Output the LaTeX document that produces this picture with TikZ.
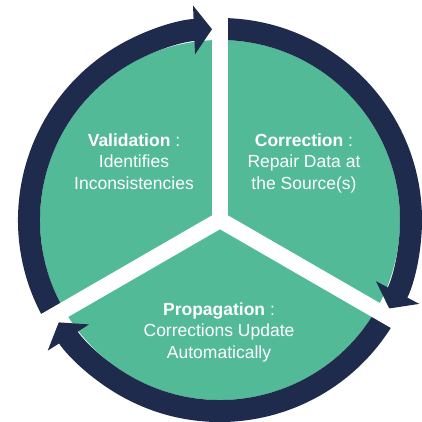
\documentclass[tikz,border=0pt]{standalone}
\usepackage{fontspec}
\setmainfont{Liberation Sans}
\usepackage{xcolor}
\usepackage{tikz}
\usetikzlibrary{arrows.meta}
\definecolor{cyclegreen}{RGB}{83,186,152}
\definecolor{cyclenavy}{RGB}{31,43,77}
\tikzstyle{stagetext} = [align=center, text=white, inner sep=0pt, anchor=base, font=\fontsize{17.5}{21.5}\selectfont]
\tikzstyle{cyclearrow} = [line width=22pt, draw=cyclenavy, -{Triangle[length=18pt,width=48pt]}]
\tikzstyle{gapbar} = [line width=16pt, draw=white]

\begin{document}
\begin{tikzpicture}[x=1pt, y=1pt]

  \useasboundingbox (-220,-201) rectangle (202,220);
  \coordinate (hub) at (0,0);
  \fill [cyclegreen] (hub) circle (180);

  \draw [cyclearrow] (210:191) arc[start angle=210, end angle=92.4, radius=191];
  \draw [cyclearrow] (90:191) arc[start angle=90, end angle=-27.6, radius=191];
  \draw [cyclearrow] (-30:191) arc[start angle=-30, end angle=-147.6, radius=191];

  \draw [gapbar] (hub) -- ++(90:222);
  \draw [gapbar] (hub) -- ++(-30:222);
  \draw [gapbar] (hub) -- ++(210:222);

  % base anchor sits on the last line
  \node (validation) [stagetext] at (-86,31) {\textbf{Validation} :\\Identifies\\Inconsistencies};
  \node (correction) [stagetext] at (84,31) {\textbf{Correction} :\\Repair Data at\\the Source(s)};
  \node (propagation) [stagetext] at (-1,-138) {\textbf{Propagation} :\\Corrections Update\\Automatically};

\end{tikzpicture}
\end{document}
